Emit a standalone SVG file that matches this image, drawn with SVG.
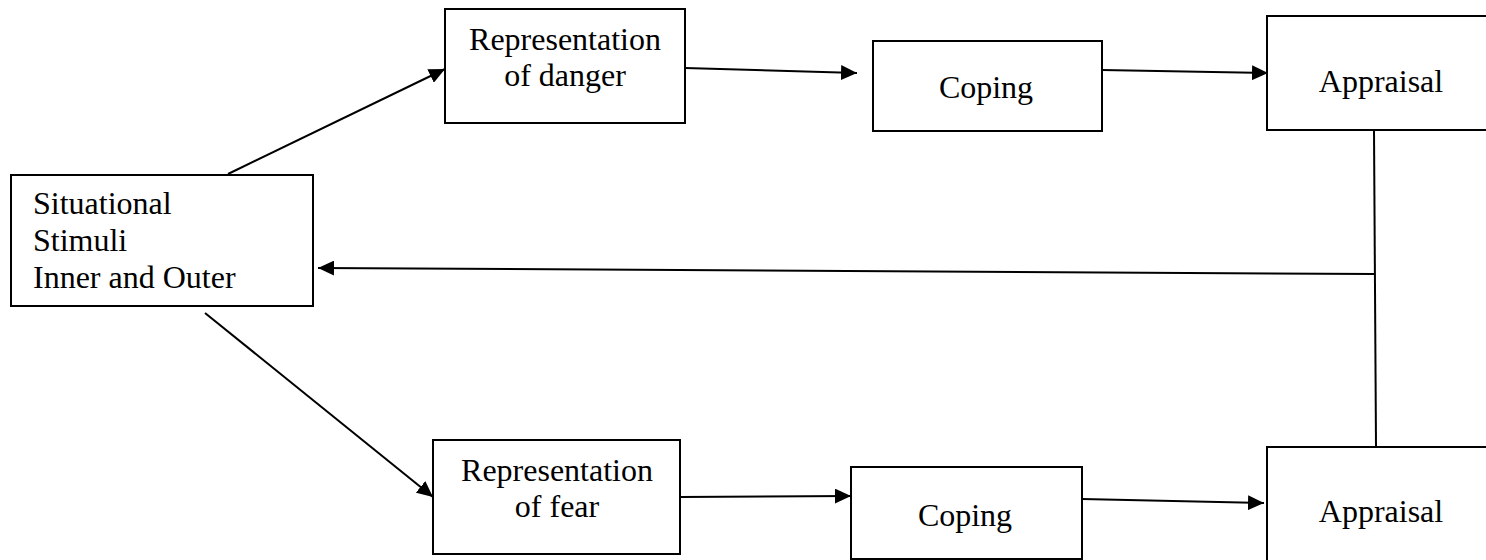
<svg xmlns="http://www.w3.org/2000/svg" width="1486" height="560" viewBox="0 0 1486 560">
  <style>
    .box { fill: #fff; stroke: #000; stroke-width: 2; }
    .lbl { font-family: "Liberation Serif", "Times New Roman", serif; font-size: 32px; fill: #000; }
    .mid { text-anchor: middle; }
    .wire { fill: none; stroke: #000; stroke-width: 2; }
  </style>
  <defs>
    <marker id="arrow" viewBox="0 0 16 15" refX="16" refY="7.5" markerWidth="16" markerHeight="15" markerUnits="userSpaceOnUse" orient="auto">
      <path d="M0,0 L16,7.5 L0,15 Z" fill="#000"/>
    </marker>
  </defs>
  <rect width="1486" height="560" fill="#fff"/>

  <g id="stimuli">
    <rect class="box" x="11" y="175" width="302" height="131"/>
    <text class="lbl" x="33" y="214">Situational</text>
    <text class="lbl" x="33" y="251">Stimuli</text>
    <text class="lbl" x="33" y="288">Inner and Outer</text>
  </g>

  <g id="rep-danger">
    <rect class="box" x="445" y="9" width="240" height="114"/>
    <text class="lbl mid" x="565" y="50">Representation</text>
    <text class="lbl mid" x="565" y="86">of danger</text>
  </g>

  <g id="coping-top">
    <rect class="box" x="873" y="41" width="229" height="90"/>
    <text class="lbl mid" x="986" y="98">Coping</text>
  </g>

  <g id="appraisal-top">
    <rect class="box" x="1267" y="16" width="240" height="114"/>
    <text class="lbl mid" x="1381" y="92">Appraisal</text>
  </g>

  <g id="rep-fear">
    <rect class="box" x="433" y="440" width="247" height="114"/>
    <text class="lbl mid" x="557" y="481">Representation</text>
    <text class="lbl mid" x="557" y="517">of fear</text>
  </g>

  <g id="coping-bottom">
    <rect class="box" x="851" y="467" width="231" height="92"/>
    <text class="lbl mid" x="965" y="526">Coping</text>
  </g>

  <g id="appraisal-bottom">
    <rect class="box" x="1267" y="447" width="240" height="130"/>
    <text class="lbl mid" x="1381" y="522">Appraisal</text>
  </g>

  <g id="connectors">
    <line class="wire" x1="228" y1="174" x2="445" y2="69" marker-end="url(#arrow)"/>
    <line class="wire" x1="205" y1="313" x2="433" y2="497" marker-end="url(#arrow)"/>
    <line class="wire" x1="685" y1="68" x2="857" y2="73" marker-end="url(#arrow)"/>
    <line class="wire" x1="1102" y1="70" x2="1268" y2="73" marker-end="url(#arrow)"/>
    <line class="wire" x1="680" y1="497" x2="851" y2="496" marker-end="url(#arrow)"/>
    <line class="wire" x1="1082" y1="499" x2="1264" y2="503" marker-end="url(#arrow)"/>
    <line class="wire" x1="1374" y1="130" x2="1376" y2="447"/>
    <line class="wire" x1="1375" y1="274" x2="318" y2="268" marker-end="url(#arrow)"/>
  </g>
</svg>
